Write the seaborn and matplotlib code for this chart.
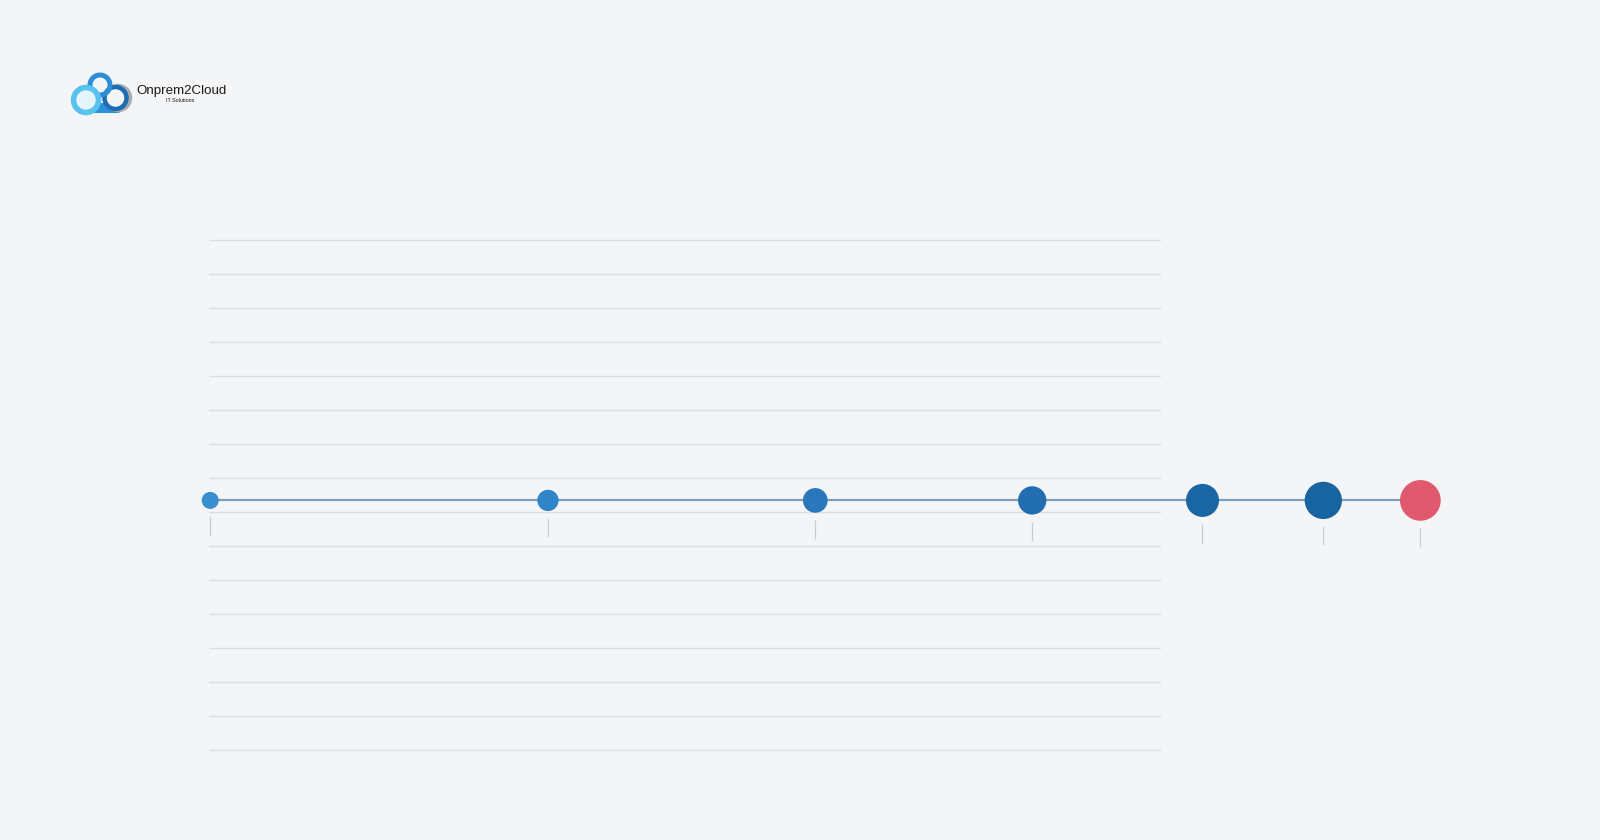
import numpy as np
import pandas as pd
import matplotlib.pyplot as plt
from matplotlib.patches import Circle, FancyBboxPatch
import seaborn as sns

sns.set_theme(style="white")
plt.rcParams['font.family'] = ['Liberation Sans', 'DejaVu Sans']

BG = "#f4f5f7"

# milestone data (no labels shown on the chart)
MILESTONES = ["M1", "M2", "M3", "M4", "M5", "M6", "M7"]
POSITIONS = [0.1, 35.6, 63.7, 86.5, 104.4, 117.1, 127.3]
MARKER_AREA = [150, 235, 316, 415, 565, 721, 859]
COLORS = ["#3a8fd0", "#2f85c7", "#2a78bb", "#226eb0", "#1a66a4", "#1864a1", "#e0596f"]
TIMELINE_Y = 7.35

df = pd.DataFrame({"milestone": MILESTONES, "pos": POSITIONS,
                   "area": MARKER_AREA, "y": TIMELINE_Y})

fig = plt.figure(figsize=(16, 8.4), dpi=100)
fig.patch.set_facecolor(BG)

AX_H = 0.6153
ax = fig.add_axes([0.1308, 0.1027, 0.5946, AX_H])
ax.set_facecolor(BG)
ax.set_xlim(0, 100)
ax.set_ylim(-0.1, 15.1)
ax.set_yticks(range(16))
ax.set_xticks([])
ax.grid(axis="y", color="#dadee4", linewidth=1.0)
ax.grid(axis="x", visible=False)
ax.tick_params(length=0, labelleft=False, labelbottom=False)
for sp in ax.spines.values():
    sp.set_visible(False)

# connecting line
sns.lineplot(data=df, x="pos", y="y", color="#7aa0bd", linewidth=1.6,
             ax=ax, clip_on=False, zorder=3)

# milestone dots
sns.scatterplot(data=df, x="pos", y="y", hue="milestone", palette=COLORS,
                s=df["area"].tolist(), linewidth=0, legend=False,
                ax=ax, clip_on=False, zorder=4)

# small drop lines under each dot
px_per_unit = AX_H * 840 / 15.2
for p, a in zip(POSITIONS, MARKER_AREA):
    r_px = np.sqrt(a) / 2 / 0.72
    y0 = TIMELINE_Y - (r_px + 7) / px_per_unit
    y1 = y0 - 19 / px_per_unit
    ax.vlines(p, y1, y0, color="#c9cdd3", linewidth=0.9, clip_on=False, zorder=2)

ax.set_xlabel("")
ax.set_ylabel("")

# logo
lax = fig.add_axes([0, 0, 1, 1], zorder=-1)
lax.set_xlim(0, 1600)
lax.set_ylim(840, 0)
lax.axis("off")
lax.add_patch(FancyBboxPatch((80, 103), 42, 10, boxstyle="round,pad=0,rounding_size=5",
                             facecolor="#2f8fd8", edgecolor="none"))
lax.add_patch(Circle((118, 98), 12, facecolor="none", edgecolor="#a9abae", linewidth=3.2))
lax.add_patch(Circle((115.5, 98), 11, facecolor="#f4f5f7", edgecolor="#1d6db5", linewidth=3.2))
lax.add_patch(Circle((100, 85), 10, facecolor="none", edgecolor="#2d8ed6", linewidth=3.6))
lax.add_patch(Circle((86, 100), 12.5, facecolor="#e6f5fc", edgecolor="#58c3ee", linewidth=4.0))
fig.text(136 / 1600, 1 - 91 / 840, "Onprem2Cloud", fontsize=9.6, color="#1a1a1a",
         va="center", ha="left")
fig.text(180 / 1600, 1 - 100.5 / 840, "IT Solutions", fontsize=3.9, color="#1a1a1a",
         va="center", ha="center")

fig.savefig("out.png", dpi=100, facecolor=BG)
